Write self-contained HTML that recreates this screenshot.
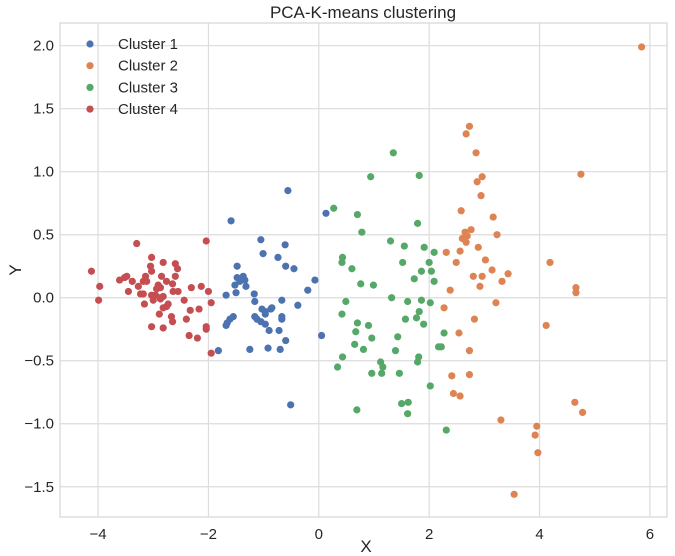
<!DOCTYPE html>
<html><head><meta charset="utf-8"><style>
html,body{margin:0;padding:0;background:#fff;}
svg{display:block;font-family:"Liberation Sans",Arial,sans-serif;}
</style></head><body>
<svg id="chart" width="675" height="556" viewBox="0 0 675 556" xmlns="http://www.w3.org/2000/svg">
<rect x="0" y="0" width="675" height="556" fill="#fff"/>
<text x="363" y="18" font-size="17" text-anchor="middle" fill="#262626">PCA-K-means clustering</text>
<g id="grid"></g>
<rect x="60" y="23" width="607" height="494" fill="none" stroke="#d6d6d6" stroke-width="1.2"/>
<g id="ticks"></g>
<g id="points"></g>
<text x="366" y="552" font-size="17" text-anchor="middle" fill="#262626">X</text>
<text x="15" y="276" font-size="17" text-anchor="middle" fill="#262626" transform="rotate(-90 15 270)">Y</text>
<g id="legend"></g>
</svg>
<script>
const seriesNames = ["Cluster 1","Cluster 2","Cluster 3","Cluster 4"];
const seriesColors = ["#4c72b0","#dd8452","#55a868","#c44e52"];
const xTicks = [-4,-2,0,2,4,6];
const yTicks = [-1.5,-1.0,-0.5,0.0,0.5,1.0,1.5,2.0];
const c1x = [-0.56,-1.59,0.13,-1.05,-0.61,-1.01,-0.74,-0.60,-0.45,-1.48,-1.48,-1.37,-1.34,-1.43,-1.52,-1.32,-1.50,-1.68,-1.17,-0.07,-0.20,-0.67,-1.16,-0.38,-1.03,-0.97,-0.97,-0.85,-0.87,-0.67,-0.67,-1.16,-1.12,-1.05,-0.97,-1.55,-1.61,-1.66,-1.68,-0.90,-0.72,-0.60,0.05,-1.82,-1.25,-0.92,-0.70,-0.51];
const c1y = [0.85,0.61,0.67,0.46,0.42,0.35,0.32,0.25,0.23,0.25,0.16,0.17,0.14,0.13,0.10,0.09,0.04,0.02,0.03,0.14,0.06,-0.02,-0.03,-0.06,-0.09,-0.11,-0.13,-0.08,-0.09,-0.15,-0.17,-0.15,-0.17,-0.19,-0.21,-0.15,-0.17,-0.20,-0.22,-0.26,-0.26,-0.34,-0.30,-0.42,-0.41,-0.40,-0.41,-0.85];
const c2x = [2.73,2.67,2.85,2.96,2.87,2.94,2.58,3.16,2.65,2.69,2.76,2.60,2.67,3.23,2.89,2.31,2.56,2.49,3.02,3.14,3.43,2.80,2.96,2.92,3.32,2.38,2.27,3.21,2.82,2.54,2.73,2.41,2.73,2.44,2.56,5.85,4.75,4.19,4.66,4.66,4.12,4.64,4.78,3.30,3.95,3.92,3.97,3.54];
const c2y = [1.36,1.30,1.15,0.96,0.92,0.81,0.69,0.64,0.52,0.49,0.54,0.47,0.44,0.50,0.40,0.36,0.37,0.28,0.30,0.22,0.19,0.17,0.17,0.09,0.13,0.06,-0.08,-0.04,-0.17,-0.28,-0.42,-0.62,-0.61,-0.76,-0.78,1.99,0.98,0.28,0.08,0.04,-0.22,-0.83,-0.91,-0.97,-1.02,-1.09,-1.23,-1.56];
const c3x = [1.35,0.94,1.82,0.27,0.70,1.79,0.78,1.30,1.55,1.91,2.09,0.43,0.42,0.60,1.52,2.00,2.04,1.86,1.73,2.09,0.76,0.99,1.32,0.49,1.61,1.86,2.02,1.82,1.77,1.57,1.90,0.42,0.70,0.90,0.67,0.96,1.43,2.27,0.65,0.81,1.39,2.17,2.22,0.43,0.34,1.81,1.79,1.12,1.16,0.96,1.14,1.46,2.02,1.50,1.62,1.61,0.69,2.31];
const c3y = [1.15,0.96,0.97,0.71,0.66,0.59,0.52,0.45,0.41,0.40,0.36,0.32,0.28,0.23,0.28,0.28,0.21,0.21,0.15,0.13,0.11,0.10,0.00,-0.03,-0.03,-0.02,-0.04,-0.11,-0.16,-0.17,-0.21,-0.13,-0.20,-0.22,-0.27,-0.32,-0.31,-0.28,-0.37,-0.41,-0.42,-0.39,-0.39,-0.47,-0.55,-0.47,-0.51,-0.51,-0.55,-0.60,-0.60,-0.60,-0.70,-0.84,-0.83,-0.92,-0.89,-1.05];
const c4x = [-3.30,-2.04,-4.12,-3.03,-3.05,-2.82,-2.60,-2.56,-3.03,-3.61,-3.52,-3.48,-3.38,-3.14,-3.12,-3.18,-2.85,-2.60,-2.76,-2.65,-3.97,-3.27,-2.91,-2.87,-2.94,-2.31,-2.13,-3.45,-3.23,-3.18,-3.03,-2.96,-2.82,-2.87,-2.64,-2.55,-2.00,-3.99,-3.00,-2.87,-2.44,-2.73,-2.76,-2.82,-3.16,-1.95,-2.33,-2.17,-2.89,-2.67,-2.65,-2.40,-3.03,-2.82,-2.04,-2.04,-2.35,-2.20,-1.95];
const c4y = [0.43,0.45,0.21,0.32,0.25,0.28,0.27,0.23,0.21,0.14,0.16,0.17,0.13,0.17,0.13,0.13,0.17,0.17,0.13,0.11,0.09,0.09,0.10,0.08,0.07,0.08,0.09,0.05,0.03,0.03,0.02,0.02,0.01,0.00,0.05,0.05,0.05,-0.02,-0.02,-0.01,-0.02,-0.05,-0.07,-0.08,-0.05,-0.04,-0.10,-0.09,-0.13,-0.15,-0.19,-0.17,-0.23,-0.24,-0.23,-0.25,-0.30,-0.32,-0.44];
const seriesX = [c1x,c2x,c3x,c4x];
const seriesY = [c1y,c2y,c3y,c4y];

const NS = "http://www.w3.org/2000/svg";
const L = 60, R = 667, T = 23, B = 517;
const xMin = -4.69, xMax = 6.31, yMin = -1.74, yMax = 2.18;
function sx(v){ return L + (v - xMin) / (xMax - xMin) * (R - L); }
function sy(v){ return B - (v - yMin) / (yMax - yMin) * (B - T); }
function mk(tag, attrs){ const e = document.createElementNS(NS, tag); for (const k in attrs) e.setAttribute(k, attrs[k]); return e; }

const grid = document.getElementById('grid');
const ticks = document.getElementById('ticks');
xTicks.forEach(v => {
  const g = mk('line', {x1: sx(v), x2: sx(v), y1: T, y2: B, stroke: '#dcdcdc', 'stroke-width': 1.2});
  
  
  grid.appendChild(g);
  const t = mk('text', {x: sx(v), y: 539, 'font-size': 15, 'text-anchor': 'middle', fill: '#262626'});
  t.textContent = (v < 0 ? '\u2212' + Math.abs(v) : String(v));
  
  
  ticks.appendChild(t);
});
yTicks.forEach(v => {
  const g = mk('line', {x1: L, x2: R, y1: sy(v), y2: sy(v), stroke: '#dcdcdc', 'stroke-width': 1.2});
  
  
  grid.appendChild(g);
  const t = mk('text', {x: 54, y: sy(v) + 5, 'font-size': 15, 'text-anchor': 'end', fill: '#262626'});
  t.textContent = (v < 0 ? '\u2212' + Math.abs(v).toFixed(1) : v.toFixed(1));
  
  
  ticks.appendChild(t);
});

const pts = document.getElementById('points');
seriesX.forEach((xs, si) => {
  const ys = seriesY[si];
  xs.forEach((xv, i) => {
    const c = mk('circle', {cx: sx(xv), cy: sy(ys[i]), r: 3.6, fill: seriesColors[si]});
    
    
    pts.appendChild(c);
  });
});

const leg = document.getElementById('legend');
seriesNames.forEach((n, i) => {
  const y = 44 + i * 21.7;
  const c = mk('circle', {cx: 90, cy: y, r: 3.6, fill: seriesColors[i]});
  
  
  leg.appendChild(c);
  const t = mk('text', {x: 118, y: y + 5, 'font-size': 15, fill: '#262626'});
  t.textContent = n;
  
  
  leg.appendChild(t);
});
</script>
</body></html>
